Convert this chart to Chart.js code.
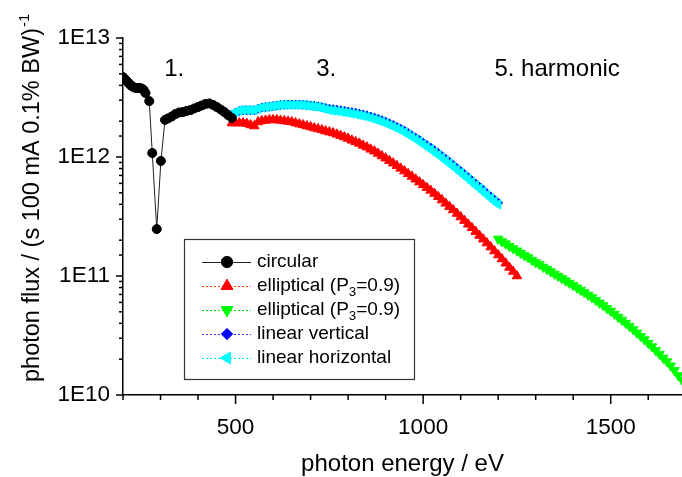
<!DOCTYPE html>
<html><head><meta charset="utf-8">
<script src="https://cdn.jsdelivr.net/npm/chart.js@4.4.1/dist/chart.umd.min.js"></script>
<style>html,body{margin:0;padding:0;background:#fff}canvas{display:block}</style>
</head><body>
<canvas id="c" width="682" height="477"></canvas>
<script>
const FONT = '"Liberation Sans", Arial, Helvetica, sans-serif';

// ---------------- data ----------------
const seriesNames = ['circular', 'elliptical (P_3=0.9)', 'elliptical (P_3=0.9)', 'linear vertical', 'linear horizontal'];

const circularEnergy = [200,205,210,215,220,225,230,235,240,245,250,255,260,270,278,290,301,312,320,330,340,350,360,370,380,390,400,410,420,430,440,450,460,470,480,490];
const circularFlux = [4.70e12,4.52e12,4.35e12,4.19e12,4.03e12,3.91e12,3.84e12,3.80e12,3.80e12,3.80e12,3.76e12,3.66e12,3.45e12,2.95e12,1.08e12,2.48e11,9.26e11,2.05e12,2.11e12,2.19e12,2.30e12,2.37e12,2.39e12,2.44e12,2.48e12,2.56e12,2.63e12,2.71e12,2.79e12,2.82e12,2.74e12,2.63e12,2.51e12,2.39e12,2.25e12,2.13e12];

const ellipticalEnergy3 = [490,500,510,520,530,540,550,560,570,580,590,600,610,620,630,640,650,660,670,680,690,700,710,720,730,740,750,760,770,780,790,800,810,820,830,840,850,860,870,880,890,900,910,920,930,940,950,960,970,980,990,1000,1010,1020,1030,1040,1050,1060,1070,1080,1090,1100,1110,1120,1130,1140,1150,1160,1170,1180,1190,1200,1210,1220,1230,1240,1250];
const ellipticalFlux3 = [1.93e12,1.93e12,1.93e12,1.93e12,1.91e12,1.86e12,1.82e12,1.97e12,2.01e12,2.03e12,
  2.05e12,2.05e12,2.05e12,2.03e12,2.01e12,1.99e12,1.97e12,1.93e12,1.89e12,1.86e12,
  1.82e12,1.79e12,1.75e12,1.72e12,1.69e12,1.65e12,1.62e12,1.59e12,1.55e12,1.51e12,
  1.47e12,1.43e12,1.38e12,1.34e12,1.30e12,1.25e12,1.21e12,1.16e12,1.12e12,1.07e12,
  1.02e12,9.77e11,9.31e11,8.87e11,8.44e11,8.02e11,7.61e11,7.22e11,6.86e11,6.50e11,
  6.15e11,5.83e11,5.52e11,5.23e11,4.93e11,4.63e11,4.35e11,4.08e11,3.83e11,3.59e11,
  3.35e11,3.13e11,2.92e11,2.72e11,2.54e11,2.36e11,2.19e11,2.04e11,1.89e11,1.75e11,
  1.62e11,1.50e11,1.39e11,1.28e11,1.18e11,1.09e11,1.00e11];

const ellipticalEnergy5 = [1200,1210,1220,1230,1240,1250,1260,1270,1280,1290,1300,1310,1320,1330,1340,1350,1360,1370,1380,1390,1400,1410,1420,1430,1440,1450,1460,1470,1480,1490,1500,1510,1520,1530,1540,1550,1560,1570,1580,1590,1600,1610,1620,1630,1640,1650,1660,1670,1680,1690];
const ellipticalFlux5 = [2.05e11,1.95e11,1.87e11,1.78e11,1.70e11,1.63e11,1.56e11,1.49e11,1.43e11,1.36e11,
  1.30e11,1.25e11,1.19e11,1.14e11,1.09e11,1.04e11,9.98e10,9.55e10,9.13e10,8.73e10,
  8.35e10,7.97e10,7.61e10,7.27e10,6.92e10,6.60e10,6.27e10,5.95e10,5.65e10,5.35e10,
  5.07e10,4.79e10,4.52e10,4.27e10,4.02e10,3.78e10,3.55e10,3.33e10,3.12e10,2.92e10,
  2.73e10,2.55e10,2.37e10,2.21e10,2.05e10,1.91e10,1.76e10,1.61e10,1.46e10,1.34e10];

const linearEnergy = [490,500,510,520,530,540,550,560,570,580,590,600,610,620,630,640,650,660,670,680,690,700,710,720,730,740,750,760,770,780,790,800,810,820,830,840,850,860,870,880,890,900,910,920,930,940,950,960,970,980,990,1000,1010,1020,1030,1040,1050,1060,1070,1080,1090,1100,1110,1120,1130,1140,1150,1160,1170,1180,1190,1200];
const linearVerticalFlux = [2.28e12,2.37e12,2.44e12,2.47e12,2.47e12,2.47e12,2.47e12,2.54e12,2.60e12,2.63e12,
  2.66e12,2.68e12,2.71e12,2.74e12,2.75e12,2.76e12,2.76e12,2.76e12,2.76e12,2.75e12,
  2.73e12,2.71e12,2.69e12,2.66e12,2.62e12,2.58e12,2.54e12,2.52e12,2.50e12,2.47e12,
  2.44e12,2.41e12,2.38e12,2.35e12,2.31e12,2.28e12,2.24e12,2.19e12,2.14e12,2.09e12,
  2.04e12,1.98e12,1.92e12,1.86e12,1.79e12,1.73e12,1.66e12,1.59e12,1.52e12,1.45e12,
  1.39e12,1.32e12,1.26e12,1.20e12,1.14e12,1.08e12,1.02e12,9.65e11,9.10e11,8.58e11,
  8.10e11,7.62e11,7.18e11,6.76e11,6.35e11,5.97e11,5.62e11,5.28e11,4.96e11,4.66e11,
  4.38e11,4.12e11];
const linearHorizontalFlux = [2.30e12,2.39e12,2.46e12,2.48e12,2.48e12,2.48e12,2.48e12,2.56e12,2.61e12,2.63e12,
  2.66e12,2.68e12,2.71e12,2.74e12,2.74e12,2.74e12,2.74e12,2.74e12,2.74e12,2.74e12,
  2.71e12,2.68e12,2.66e12,2.63e12,2.58e12,2.53e12,2.48e12,2.46e12,2.44e12,2.41e12,
  2.38e12,2.35e12,2.32e12,2.29e12,2.25e12,2.22e12,2.18e12,2.13e12,2.08e12,2.03e12,
  1.98e12,1.92e12,1.86e12,1.80e12,1.74e12,1.68e12,1.61e12,1.54e12,1.48e12,1.41e12,
  1.35e12,1.28e12,1.22e12,1.16e12,1.10e12,1.04e12,9.89e11,9.35e11,8.82e11,8.32e11,
  7.85e11,7.39e11,6.96e11,6.56e11,6.16e11,5.79e11,5.45e11,5.12e11,4.81e11,4.52e11,
  4.25e11,4.00e11];

const xTickValues = [200,300,400,500,600,700,800,900,1000,1100,1200,1300,1400,1500,1600];
const xTickLabels = [500, 1000, 1500];
const yTickExponents = [10, 11, 12, 13];
const harmonicLabels = ['1.', '3.', '5. harmonic'];
const harmonicLabelEnergy = [310, 715, 1190];
const harmonicLabelFlux = [5.5e12, 5.5e12, 5.5e12];
const xAxisTitle = 'photon energy / eV';
const yAxisTitle = 'photon flux / (s 100 mA 0.1% BW)';
const yAxisTitleSup = '-1';

// ---------------- styles ----------------
const styles = [
  {color:'#000000', line:'#202020', style:'circle',   radius:4.5, rot:0,   dash:[],    order:0},
  {color:'#ff0000', line:'#ff4000', style:'triangle', radius:5.5, rot:0,   dash:[2,2], order:3},
  {color:'#00ff00', line:'#00e000', style:'triangle', radius:5.5, rot:180, dash:[2,2], order:4},
  {color:'#0000ff', line:'#3030ff', style:'rectRot',  radius:4.5, rot:0,   dash:[2,2], order:2},
  {color:'#00ffff', line:'#00e0ff', style:'triangle', radius:5.5, rot:270, dash:[2,2], order:1}
];
const seriesX = [circularEnergy, ellipticalEnergy3, ellipticalEnergy5, linearEnergy, linearEnergy];
const seriesY = [circularFlux, ellipticalFlux3, ellipticalFlux5, linearVerticalFlux, linearHorizontalFlux];

const datasets = seriesNames.map((name, i) => {
  const st = styles[i];
  return {
    label: name.replace('_', ''),
    data: seriesX[i].map((x, k) => ({x, y: seriesY[i][k]})),
    showLine: true,
    borderColor: st.line,
    borderWidth: 1,
    borderDash: st.dash,
    backgroundColor: st.color,
    pointStyle: st.style,
    pointRotation: st.rot,
    pointRadius: st.radius,
    pointBackgroundColor: st.color,
    pointBorderColor: st.color,
    pointBorderWidth: 1,
    order: st.order
  };
});

function isPow10(v) { const e = Math.log10(v); return Math.abs(e - Math.round(e)) < 1e-9; }
function isXLabel(v) { return xTickLabels.some(t => Math.abs(t - v) < 1e-6); }

function drawMarker(ctx, st, x, y, scale) {
  ctx.save();
  ctx.fillStyle = st.color; ctx.strokeStyle = st.color; ctx.lineWidth = 1;
  ctx.translate(x, y); ctx.rotate(st.rot * Math.PI / 180);
  const r = st.radius * scale;
  ctx.beginPath();
  if (st.style === 'circle') ctx.arc(0, 0, r, 0, Math.PI * 2);
  else if (st.style === 'triangle') {
    for (let k = 0; k < 3; k++) { const a = k * 2 * Math.PI / 3; if (k===0) ctx.moveTo(Math.sin(a)*r, -Math.cos(a)*r); else ctx.lineTo(Math.sin(a)*r, -Math.cos(a)*r); }
    ctx.closePath();
  } else { ctx.moveTo(0,-r); ctx.lineTo(r,0); ctx.lineTo(0,r); ctx.lineTo(-r,0); ctx.closePath(); }
  ctx.fill(); ctx.stroke();
  ctx.restore();
}

function drawRich(ctx, text, x, y, size) {
  const parts = text.split(/(_\d)/);
  let cx = x;
  parts.forEach(p => {
    if (!p) return;
    if (p[0] === '_') {
      ctx.font = (size * 0.7) + 'px ' + FONT;
      ctx.fillText(p.slice(1), cx, y + size * 0.32);
      cx += ctx.measureText(p.slice(1)).width;
    } else {
      ctx.font = size + 'px ' + FONT;
      ctx.fillText(p, cx, y);
      cx += ctx.measureText(p).width;
    }
  });
}

const decor = {
  id: 'decor',
  afterDraw(chart) {
    const {ctx, chartArea: a, scales: {x, y}} = chart;
    ctx.save();
    // tick marks
    ctx.strokeStyle = '#000'; ctx.lineWidth = 1.5;
    y.ticks.forEach(t => {
      const py = y.getPixelForValue(t.value);
      const len = isPow10(t.value) ? 7 : 4;
      ctx.beginPath(); ctx.moveTo(a.left, py); ctx.lineTo(a.left - len, py); ctx.stroke();
    });
    x.ticks.forEach(t => {
      const px = x.getPixelForValue(t.value);
      const len = isXLabel(t.value) ? 9 : 5;
      ctx.beginPath(); ctx.moveTo(px, a.bottom); ctx.lineTo(px, a.bottom + len); ctx.stroke();
    });
    // y axis title with superscript
    ctx.fillStyle = '#000';
    ctx.save();
    ctx.translate(39, 382);
    ctx.rotate(-Math.PI / 2);
    ctx.textAlign = 'left'; ctx.textBaseline = 'alphabetic';
    ctx.font = '23.5px ' + FONT;
    ctx.fillText(yAxisTitle, 0, 0);
    const w = ctx.measureText(yAxisTitle).width;
    ctx.font = '15px ' + FONT;
    ctx.fillText(yAxisTitleSup, w + 1, -10);
    ctx.restore();
    // harmonic annotations
    ctx.font = '24px ' + FONT;
    ctx.textAlign = 'left'; ctx.textBaseline = 'middle';
    harmonicLabels.forEach((s, i) => {
      ctx.fillText(s, x.getPixelForValue(harmonicLabelEnergy[i]), y.getPixelForValue(harmonicLabelFlux[i]));
    });
    // legend
    const L = 184, T = 239, W = 230, H = 140;
    ctx.fillStyle = '#fff'; ctx.fillRect(L, T, W, H);
    ctx.strokeStyle = '#333'; ctx.lineWidth = 1.2; ctx.strokeRect(L + 0.5, T + 0.5, W, H);
    seriesNames.forEach((name, i) => {
      const st = styles[i];
      const ry = 262 + i * 24;
      ctx.save();
      ctx.strokeStyle = st.line; ctx.lineWidth = 1; ctx.setLineDash(st.dash);
      ctx.beginPath(); ctx.moveTo(202, ry + 0.5); ctx.lineTo(251, ry + 0.5); ctx.stroke();
      ctx.restore();
      drawMarker(ctx, st, 227, ry, 1.25);
      ctx.fillStyle = '#000'; ctx.textAlign = 'left'; ctx.textBaseline = 'middle';
      drawRich(ctx, name, 257, ry, 19);
    });
    ctx.restore();
  }
};

new Chart(document.getElementById('c'), {
  type: 'scatter',
  data: { datasets },
  options: {
    responsive: false,
    animation: false,
    events: [],
    layout: { autoPadding: false, padding: { top: 38, right: 0, left: 0, bottom: 0 } },
    plugins: { legend: { display: false }, tooltip: { enabled: false } },
    scales: {
      x: {
        type: 'linear', min: 200, max: 1690,
        grid: { display: false, drawTicks: false },
        border: { display: true, color: '#000', width: 1.5 },
        ticks: { autoSkip: false, maxRotation: 0, padding: 19, color: '#000',
          font: { family: FONT, size: 22.5 },
          callback: v => isXLabel(v) ? String(Math.round(v)) : '' },
        afterBuildTicks: s => { s.ticks = xTickValues.map(v => ({ value: v })); },
        title: { display: true, text: xAxisTitle, color: '#000', font: { family: FONT, size: 24 }, padding: { top: 0, bottom: -2 } },
        afterFit: s => { s.height = 82; s.paddingLeft = 0; s.paddingRight = 0; }
      },
      y: {
        type: 'logarithmic', min: 1e10, max: 1e13,
        grid: { display: false, drawTicks: false },
        border: { display: true, color: '#000', width: 1.5 },
        ticks: { autoSkip: false, padding: 13, color: '#000', font: { family: FONT, size: 22.5 },
          callback: v => (isPow10(v) && yTickExponents.includes(Math.round(Math.log10(v)))) ? '1E' + Math.round(Math.log10(v)) : '' },
        afterFit: s => { s.width = 123; s.paddingTop = 0; s.paddingBottom = 0; }
      }
    }
  },
  plugins: [decor]
});
</script>
</body></html>
